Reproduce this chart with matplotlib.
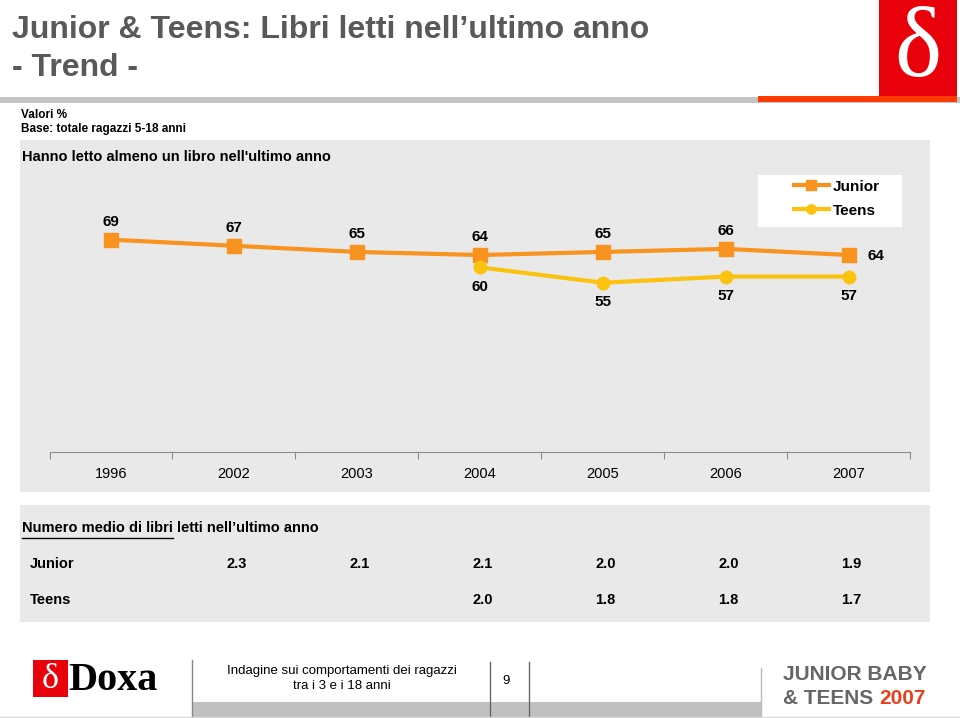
import matplotlib.pyplot as plt
from matplotlib.patches import Rectangle
from matplotlib.lines import Line2D
import matplotlib.transforms as mtransforms

plt.rcParams['font.family'] = ['Liberation Sans', 'DejaVu Sans']

# dati
anni = ['1996', '2002', '2003', '2004', '2005', '2006', '2007']
junior_pct = [69, 67, 65, 64, 65, 66, 64]
teens_pct = [None, None, None, 60, 55, 57, 57]
junior_libri = [None, 2.3, 2.1, 2.1, 2.0, 2.0, 1.9]
teens_libri = [None, None, None, 2.0, 1.8, 1.8, 1.7]

ARANCIO = '#F7931E'
GIALLO = '#FBC30F'
GRIGIO_TITOLO = '#595959'
PANNELLO = '#e9e9e9'
ROSSO = '#E8000B'

W, H = 960, 718
fig = plt.figure(figsize=(9.6, 7.18), dpi=100)


def fx(x):
    return x / W


def fy(y):
    return 1 - y / H


def rett(x0, y0, x1, y1, colore, z=0):
    fig.add_artist(Rectangle((fx(x0), fy(y1)), fx(x1) - fx(x0), fy(y0) - fy(y1),
                             transform=fig.transFigure, facecolor=colore,
                             edgecolor='none', zorder=z))


def linea(x0, y0, x1, y1, colore='#888888', lw=1.0):
    fig.add_artist(Line2D([fx(x0), fx(x1)], [fy(y0), fy(y1)], color=colore,
                          lw=lw, transform=fig.transFigure))


# intestazione
fig.text(fx(12), fy(30), "Junior & Teens: Libri letti nell\u2019ultimo anno",
         fontsize=23, fontweight='bold', color=GRIGIO_TITOLO, va='center')
fig.text(fx(12), fy(68), "- Trend -", fontsize=23, fontweight='bold',
         color=GRIGIO_TITOLO, va='center')
rett(0, 97, 960, 103, '#c4c4c4')
rett(758, 96, 957, 102, '#FF3A00', z=1)
rett(879, 0, 957, 96, ROSSO, z=1)
fig.text(fx(918), fy(52), '\u03b4', fontsize=72, color='white',
         family=['Liberation Serif', 'DejaVu Serif'], ha='center', va='center',
         zorder=2)

fig.text(fx(21), fy(115), 'Valori %', fontsize=8.5, fontweight='bold', va='center')
fig.text(fx(21), fy(129), 'Base: totale ragazzi 5-18 anni', fontsize=8.5,
         fontweight='bold', va='center')

# pannello grafico
rett(20, 140, 930, 492, PANNELLO)
rett(758, 175, 902, 227, 'white')
fig.text(fx(22), fy(157), "Hanno letto almeno un libro nell'ultimo anno",
         fontsize=10.5, fontweight='bold', va='center')

ax = fig.add_axes([fx(49.5), fy(452), fx(861), (452 - 175) / H])
ax.set_facecolor('none')
x = list(range(len(anni)))
ax.plot(x, junior_pct, color=ARANCIO, lw=3, marker='s', ms=10.5,
        label='Junior', zorder=3)
tx = [i for i, v in zip(x, teens_pct) if v is not None]
tv = [v for v in teens_pct if v is not None]
ax.plot(tx, tv, color=GIALLO, lw=3, marker='o', ms=9, label='Teens', zorder=3)

for i, v in zip(x, junior_pct):
    if i == len(x) - 1:
        ax.annotate(str(v), (i, v), xytext=(13, -1), textcoords='offset points',
                    ha='left', va='center', fontsize=11, fontweight='bold')
    else:
        ax.annotate(str(v), (i, v), xytext=(0, 8), textcoords='offset points',
                    ha='center', va='bottom', fontsize=11, fontweight='bold')
for i, v in zip(tx, tv):
    ax.annotate(str(v), (i, v), xytext=(0, -9), textcoords='offset points',
                ha='center', va='top', fontsize=11, fontweight='bold')

ax.set_xlim(-0.5, len(anni) - 0.5)
ax.set_ylim(0, 90)
ax.set_yticks([])
ax.set_xticks([i - 0.5 for i in range(len(anni) + 1)], minor=False)
ax.set_xticklabels([])
ax.set_xticks(x, minor=True)
ax.set_xticklabels(anni, minor=True, fontsize=10.5)
ax.tick_params(axis='x', which='major', length=5, color='#8c8c8c')
ax.tick_params(axis='x', which='minor', length=0, pad=11)
for s in ['top', 'left', 'right']:
    ax.spines[s].set_visible(False)
ax.spines['bottom'].set_color('#8c8c8c')

leg = ax.legend(loc='upper left', bbox_to_anchor=(fx(789), fy(175)),
                bbox_transform=fig.transFigure, frameon=False,
                handlelength=2.3, handletextpad=0.25, borderpad=0.3,
                labelspacing=0.65, borderaxespad=0,
                prop={'weight': 'bold', 'size': 11}, markerscale=0.75)

# pannello tabella
rett(20, 505, 930, 622, PANNELLO)
r = fig.canvas.get_renderer()
t1 = fig.text(fx(22), fy(528), 'Numero medio di libri', fontsize=10.5,
              fontweight='bold', va='center')
bb = t1.get_window_extent(renderer=r)
linea(22, 538, bb.x1, 538, colore='black', lw=1)
fig.text(bb.x1 / W + fx(4), fy(528), "letti nell\u2019ultimo anno",
         fontsize=10.5, fontweight='bold', va='center')

trans = mtransforms.blended_transform_factory(ax.transData, fig.transFigure)
for nome, valori, yy in [('Junior', junior_libri, 564), ('Teens', teens_libri, 600)]:
    fig.text(fx(30), fy(yy), nome, fontsize=10.5, fontweight='bold', va='center')
    for i, v in enumerate(valori):
        if v is not None:
            ax.text(i + 0.02, fy(yy), f'{v:.1f}', transform=trans, ha='center',
                    va='center', fontsize=10.5, fontweight='bold')

# piè di pagina
rett(33, 660, 68, 697, ROSSO)
fig.text(fx(50.5), fy(679), '\u03b4', fontsize=26, color='white',
         family=['Liberation Serif', 'DejaVu Serif'], ha='center', va='center')
fig.text(fx(68), fy(680), 'Doxa', fontsize=29, fontweight='bold',
         family=['Liberation Serif', 'DejaVu Serif'], va='center')
rett(193, 702, 761, 717, '#c0c0c0')
linea(192, 660, 192, 718)
linea(490, 662, 490, 718, colore='#666666')
linea(529, 662, 529, 718, colore='#666666')
linea(761, 668, 761, 718, colore='#bbbbbb')
linea(0, 717, 960, 717, colore='#d8d8d8')
fig.text(fx(342), fy(671), 'Indagine sui comportamenti dei ragazzi', fontsize=9.5,
         ha='center', va='center')
fig.text(fx(342), fy(686), 'tra i 3 e i 18 anni', fontsize=9.5, ha='center',
         va='center')
fig.text(fx(506), fy(681), '9', fontsize=9.5, ha='center', va='center')
fig.text(fx(855), fy(675), 'JUNIOR BABY', fontsize=15, fontweight='bold',
         color='#666666', ha='center', va='center')
t2 = fig.text(fx(783), fy(698), '& TEENS ', fontsize=15, fontweight='bold',
              color='#666666', va='center')
bb2 = t2.get_window_extent(renderer=r)
fig.text(bb2.x1 / W, fy(698), '2007', fontsize=15, fontweight='bold',
         color='#E8401C', va='center')

fig.savefig('out.png', dpi=100)
